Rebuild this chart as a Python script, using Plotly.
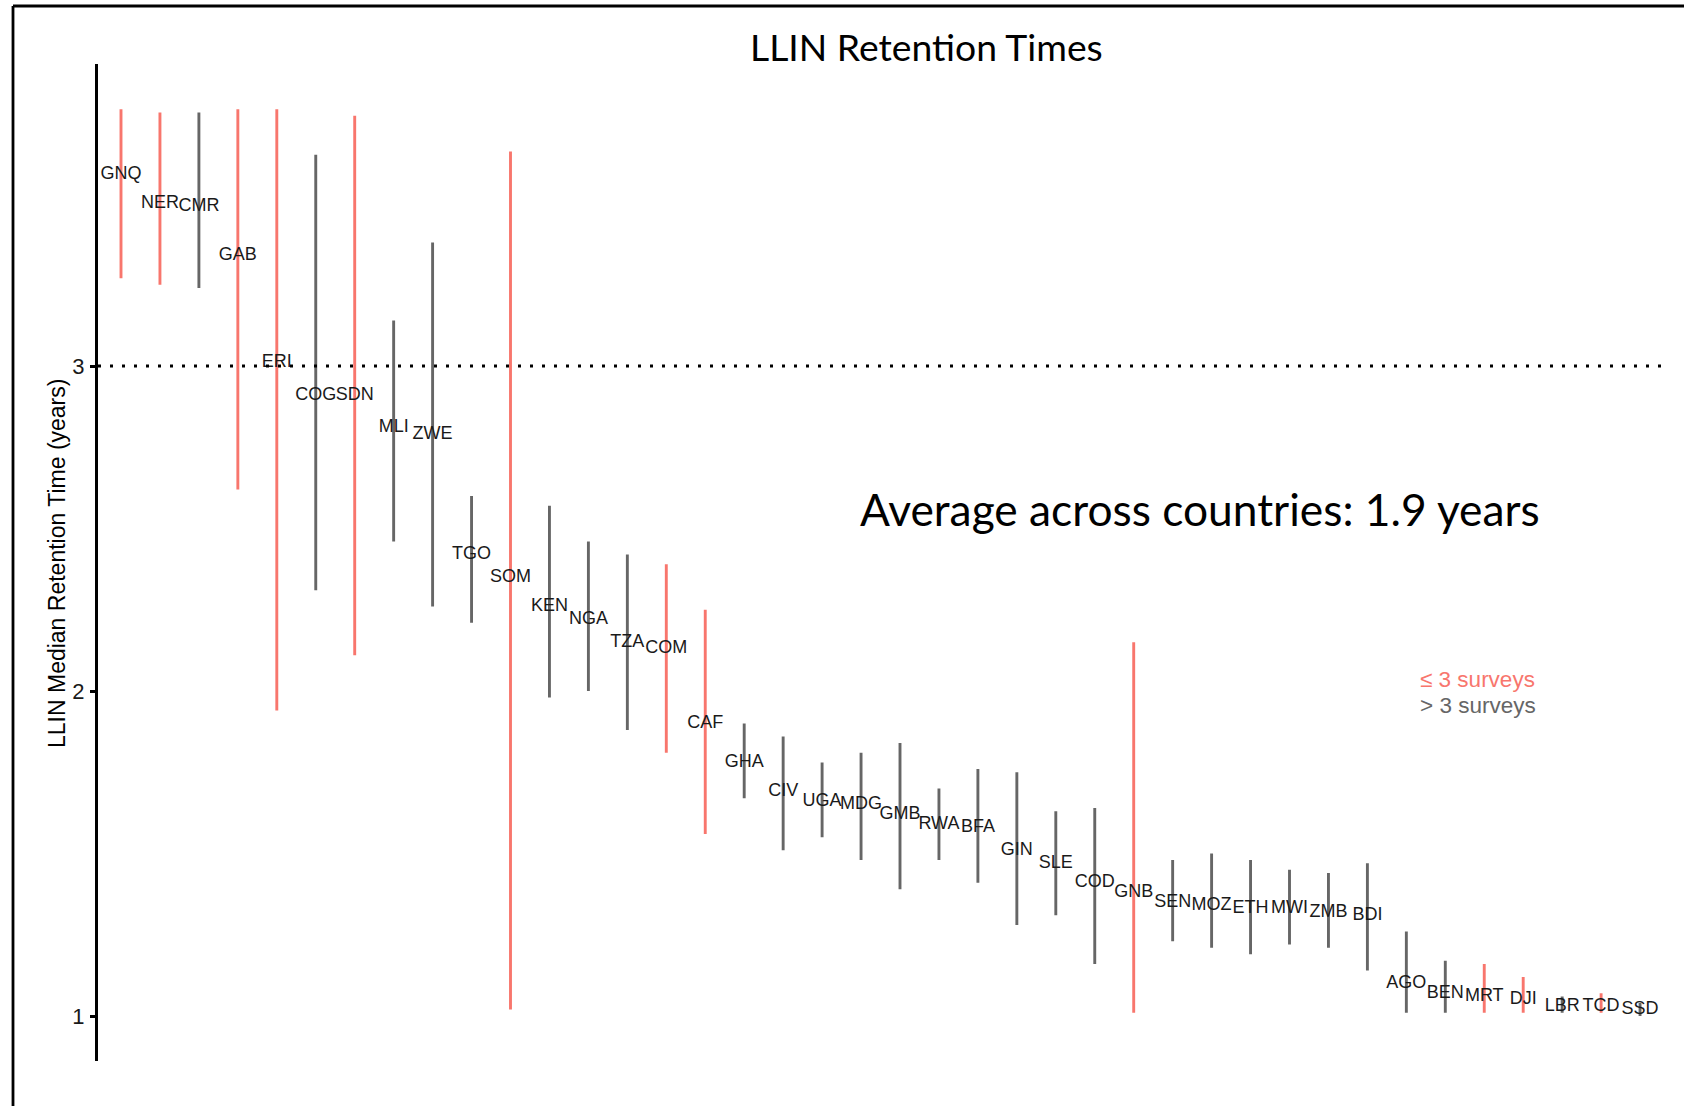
import plotly.graph_objects as go

W, H = 1684, 1106

countries = ["GNQ", "NER", "CMR", "GAB", "ERI", "COG", "SDN", "MLI", "ZWE", "TGO",
             "SOM", "KEN", "NGA", "TZA", "COM", "CAF", "GHA", "CIV", "UGA", "MDG",
             "GMB", "RWA", "BFA", "GIN", "SLE", "COD", "GNB", "SEN", "MOZ", "ETH",
             "MWI", "ZMB", "BDI", "AGO", "BEN", "MRT", "DJI", "LBR", "TCD", "SSD"]

median = [3.59, 3.50, 3.49, 3.34, 3.01, 2.91, 2.91, 2.81, 2.79, 2.42,
          2.35, 2.26, 2.22, 2.15, 2.13, 1.90, 1.78, 1.69, 1.66, 1.65,
          1.62, 1.59, 1.58, 1.51, 1.47, 1.41, 1.38, 1.35, 1.34, 1.33,
          1.33, 1.32, 1.31, 1.10, 1.07, 1.06, 1.05, 1.03, 1.03, 1.02]

lower = [3.27, 3.25, 3.24, 2.62, 1.94, 2.31, 2.11, 2.46, 2.26, 2.21,
         1.02, 1.98, 2.00, 1.88, 1.81, 1.56, 1.67, 1.51, 1.55, 1.48,
         1.39, 1.48, 1.41, 1.28, 1.31, 1.16, 1.01, 1.23, 1.21, 1.19,
         1.22, 1.21, 1.14, 1.01, 1.01, 1.01, 1.01, 1.01, 1.01, 1.00]

upper = [3.79, 3.78, 3.78, 3.79, 3.79, 3.65, 3.77, 3.14, 3.38, 2.60,
         3.66, 2.57, 2.46, 2.42, 2.39, 2.25, 1.90, 1.86, 1.78, 1.81,
         1.84, 1.70, 1.76, 1.75, 1.63, 1.64, 2.15, 1.48, 1.50, 1.48,
         1.45, 1.44, 1.47, 1.26, 1.17, 1.16, 1.12, 1.06, 1.07, 1.04]

few_surveys = ["GNQ", "NER", "GAB", "ERI", "SDN", "SOM", "COM", "CAF", "GNB",
               "MRT", "DJI", "TCD"]

y_ticks = [1, 2, 3]
threshold = 3
title_text = "LLIN Retention Times"
y_title = "LLIN Median Retention Time (years)"
avg_text = "Average across countries: 1.9 years"
legend_labels = ["\u2264 3 surveys", "> 3 surveys"]

RED = "#F8766D"
GREY = "#666666"

fig = go.Figure()

for grp, col in [(True, RED), (False, GREY)]:
    xs, ys = [], []
    for i, c in enumerate(countries):
        if (c in few_surveys) == grp:
            xs += [i, i, None]
            ys += [lower[i], upper[i], None]
    fig.add_trace(go.Scatter(x=xs, y=ys, mode="lines",
                             line=dict(color=col, width=2.9),
                             showlegend=False, hoverinfo="skip"))

fig.add_trace(go.Scatter(x=list(range(len(countries))), y=median, mode="text",
                         text=countries, textposition="middle center",
                         textfont=dict(family="Liberation Sans, Arial", size=18,
                                       color="#1a1a1a"),
                         showlegend=False, cliponaxis=False))

# pixel geometry
x_left, x_right = 98, 1665
first_x, step = 121, 38.95
r0 = -(first_x - x_left) / step
r1 = r0 + (x_right - x_left) / step

y_top_px, y_bot_px = 63.5, 1061
px_per_unit, y1_px = 325, 1016
ymax = 1 + (y1_px - y_top_px) / px_per_unit
ymin = 1 - (y_bot_px - y1_px) / px_per_unit

fig.update_layout(
    width=W, height=H,
    margin=dict(l=0, r=0, t=0, b=0),
    paper_bgcolor="white", plot_bgcolor="white",
    xaxis=dict(domain=[x_left / W, x_right / W], range=[r0, r1], visible=False),
    yaxis=dict(domain=[1 - y_bot_px / H, 1 - y_top_px / H], range=[ymin, ymax],
               showline=True, linecolor="black", linewidth=3,
               ticks="outside", ticklen=5, tickwidth=2.5, tickcolor="black",
               tickmode="array", tickvals=y_ticks,
               ticktext=[str(t) for t in y_ticks],
               ticklabelstandoff=1,
               tickfont=dict(family="Liberation Sans, Arial", size=22, color="#1a1a1a"),
               showgrid=False, zeroline=False, automargin=False),
    font=dict(family="Liberation Sans, Arial"),
)

fig.add_shape(type="line", xref="x domain", yref="y", x0=0, x1=1,
              y0=threshold, y1=threshold,
              line=dict(color="black", width=3, dash="3px,9px"))

# slide frame
fig.add_shape(type="line", xref="paper", yref="paper", x0=13 / W, x1=1.01,
              y0=1 - 6 / H, y1=1 - 6 / H, line=dict(color="black", width=2.8))
fig.add_shape(type="line", xref="paper", yref="paper", x0=13 / W, x1=13 / W,
              y0=-0.01, y1=1 - 6 / H, line=dict(color="black", width=2.8))

fig.add_annotation(xref="paper", yref="paper", x=926 / W, y=1 - 47 / H,
                   text=title_text, showarrow=False, xanchor="center", yanchor="middle",
                   font=dict(family="Lato", size=37.3, color="black"))

fig.add_annotation(xref="paper", yref="paper", x=57 / W, y=1 - 564 / H,
                   text=y_title, showarrow=False, textangle=-90,
                   xanchor="center", yanchor="middle",
                   font=dict(family="Liberation Sans, Arial", size=23, color="black"))

fig.add_annotation(xref="paper", yref="paper", x=858 / W, y=1 - 508 / H,
                   text=avg_text, showarrow=False, xanchor="left", yanchor="middle",
                   font=dict(family="Lato", size=44.3, color="black"))

for lbl, col, ypx in [(legend_labels[0], RED, 679), (legend_labels[1], GREY, 705)]:
    fig.add_annotation(xref="paper", yref="paper", x=1418 / W, y=1 - ypx / H,
                       text=lbl, showarrow=False, xanchor="left", yanchor="middle",
                       font=dict(family="Liberation Sans, Arial", size=22.5, color=col))

fig.write_html("out.html",
               config={"displayModeBar": False},
               post_script="document.body.style.margin='0';"
                           "document.body.style.overflow='hidden';")
